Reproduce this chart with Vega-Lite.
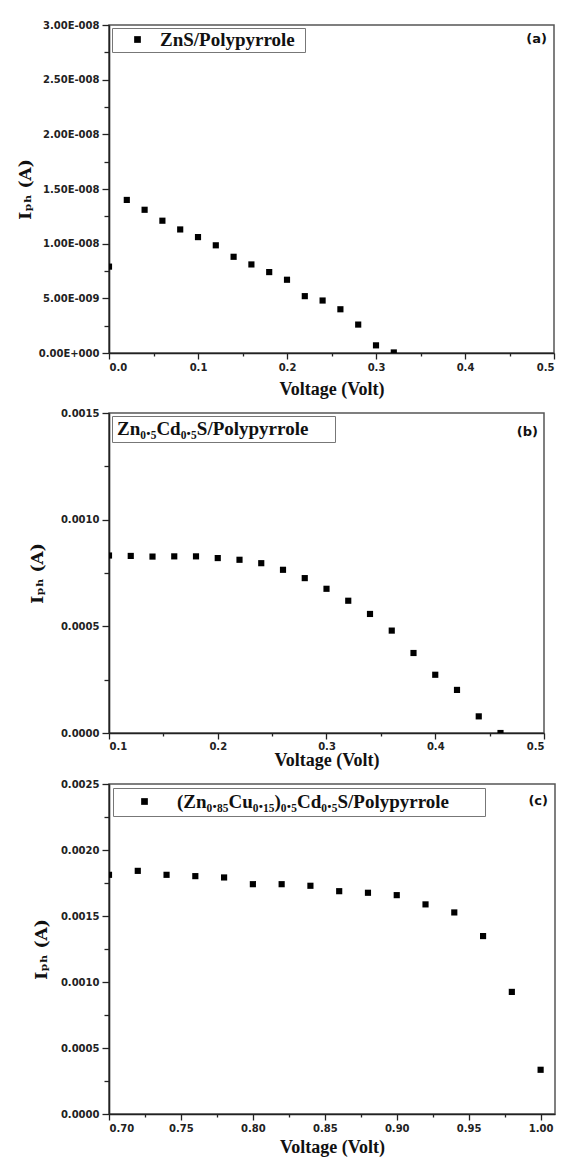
{
  "$schema": "https://vega.github.io/schema/vega-lite/v6.json",
  "padding": {"top": 19, "left": 15, "right": 4, "bottom": 0},
  "spacing": 8,
  "resolve": {"scale": {"shape": "independent"}, "legend": {"shape": "independent"}},
  "datasets": {
    "a": [
      {"V": 0.00, "I": 7.9e-9, "series": "ZnS/Polypyrrole"},
      {"V": 0.02, "I": 1.40e-8, "series": "ZnS/Polypyrrole"},
      {"V": 0.04, "I": 1.31e-8, "series": "ZnS/Polypyrrole"},
      {"V": 0.06, "I": 1.21e-8, "series": "ZnS/Polypyrrole"},
      {"V": 0.08, "I": 1.13e-8, "series": "ZnS/Polypyrrole"},
      {"V": 0.10, "I": 1.06e-8, "series": "ZnS/Polypyrrole"},
      {"V": 0.12, "I": 9.85e-9, "series": "ZnS/Polypyrrole"},
      {"V": 0.14, "I": 8.8e-9, "series": "ZnS/Polypyrrole"},
      {"V": 0.16, "I": 8.1e-9, "series": "ZnS/Polypyrrole"},
      {"V": 0.18, "I": 7.4e-9, "series": "ZnS/Polypyrrole"},
      {"V": 0.20, "I": 6.7e-9, "series": "ZnS/Polypyrrole"},
      {"V": 0.22, "I": 5.2e-9, "series": "ZnS/Polypyrrole"},
      {"V": 0.24, "I": 4.8e-9, "series": "ZnS/Polypyrrole"},
      {"V": 0.26, "I": 4.0e-9, "series": "ZnS/Polypyrrole"},
      {"V": 0.28, "I": 2.6e-9, "series": "ZnS/Polypyrrole"},
      {"V": 0.30, "I": 7e-10, "series": "ZnS/Polypyrrole"},
      {"V": 0.32, "I": 5e-11, "series": "ZnS/Polypyrrole"}
    ],
    "b": [
      {"V": 0.10, "I": 0.000832, "series": "Zn₀.₅Cd₀.₅S/Polypyrrole"},
      {"V": 0.12, "I": 0.000830, "series": "Zn₀.₅Cd₀.₅S/Polypyrrole"},
      {"V": 0.14, "I": 0.000827, "series": "Zn₀.₅Cd₀.₅S/Polypyrrole"},
      {"V": 0.16, "I": 0.000828, "series": "Zn₀.₅Cd₀.₅S/Polypyrrole"},
      {"V": 0.18, "I": 0.000828, "series": "Zn₀.₅Cd₀.₅S/Polypyrrole"},
      {"V": 0.20, "I": 0.000820, "series": "Zn₀.₅Cd₀.₅S/Polypyrrole"},
      {"V": 0.22, "I": 0.000812, "series": "Zn₀.₅Cd₀.₅S/Polypyrrole"},
      {"V": 0.24, "I": 0.000796, "series": "Zn₀.₅Cd₀.₅S/Polypyrrole"},
      {"V": 0.26, "I": 0.000765, "series": "Zn₀.₅Cd₀.₅S/Polypyrrole"},
      {"V": 0.28, "I": 0.000726, "series": "Zn₀.₅Cd₀.₅S/Polypyrrole"},
      {"V": 0.30, "I": 0.000676, "series": "Zn₀.₅Cd₀.₅S/Polypyrrole"},
      {"V": 0.32, "I": 0.000620, "series": "Zn₀.₅Cd₀.₅S/Polypyrrole"},
      {"V": 0.34, "I": 0.000558, "series": "Zn₀.₅Cd₀.₅S/Polypyrrole"},
      {"V": 0.36, "I": 0.000480, "series": "Zn₀.₅Cd₀.₅S/Polypyrrole"},
      {"V": 0.38, "I": 0.000375, "series": "Zn₀.₅Cd₀.₅S/Polypyrrole"},
      {"V": 0.40, "I": 0.000273, "series": "Zn₀.₅Cd₀.₅S/Polypyrrole"},
      {"V": 0.42, "I": 0.000202, "series": "Zn₀.₅Cd₀.₅S/Polypyrrole"},
      {"V": 0.44, "I": 0.000078, "series": "Zn₀.₅Cd₀.₅S/Polypyrrole"},
      {"V": 0.46, "I": 0.0, "series": "Zn₀.₅Cd₀.₅S/Polypyrrole"}
    ],
    "c": [
      {"V": 0.70, "I": 0.001812, "series": "(Zn₀.₈₅Cu₀.₁₅)₀.₅Cd₀.₅S/Polypyrrole"},
      {"V": 0.72, "I": 0.001842, "series": "(Zn₀.₈₅Cu₀.₁₅)₀.₅Cd₀.₅S/Polypyrrole"},
      {"V": 0.74, "I": 0.001812, "series": "(Zn₀.₈₅Cu₀.₁₅)₀.₅Cd₀.₅S/Polypyrrole"},
      {"V": 0.76, "I": 0.001802, "series": "(Zn₀.₈₅Cu₀.₁₅)₀.₅Cd₀.₅S/Polypyrrole"},
      {"V": 0.78, "I": 0.001792, "series": "(Zn₀.₈₅Cu₀.₁₅)₀.₅Cd₀.₅S/Polypyrrole"},
      {"V": 0.80, "I": 0.001741, "series": "(Zn₀.₈₅Cu₀.₁₅)₀.₅Cd₀.₅S/Polypyrrole"},
      {"V": 0.82, "I": 0.001741, "series": "(Zn₀.₈₅Cu₀.₁₅)₀.₅Cd₀.₅S/Polypyrrole"},
      {"V": 0.84, "I": 0.001729, "series": "(Zn₀.₈₅Cu₀.₁₅)₀.₅Cd₀.₅S/Polypyrrole"},
      {"V": 0.86, "I": 0.001688, "series": "(Zn₀.₈₅Cu₀.₁₅)₀.₅Cd₀.₅S/Polypyrrole"},
      {"V": 0.88, "I": 0.001676, "series": "(Zn₀.₈₅Cu₀.₁₅)₀.₅Cd₀.₅S/Polypyrrole"},
      {"V": 0.90, "I": 0.001658, "series": "(Zn₀.₈₅Cu₀.₁₅)₀.₅Cd₀.₅S/Polypyrrole"},
      {"V": 0.92, "I": 0.001588, "series": "(Zn₀.₈₅Cu₀.₁₅)₀.₅Cd₀.₅S/Polypyrrole"},
      {"V": 0.94, "I": 0.001527, "series": "(Zn₀.₈₅Cu₀.₁₅)₀.₅Cd₀.₅S/Polypyrrole"},
      {"V": 0.96, "I": 0.001348, "series": "(Zn₀.₈₅Cu₀.₁₅)₀.₅Cd₀.₅S/Polypyrrole"},
      {"V": 0.98, "I": 0.000925, "series": "(Zn₀.₈₅Cu₀.₁₅)₀.₅Cd₀.₅S/Polypyrrole"},
      {"V": 1.00, "I": 0.000335, "series": "(Zn₀.₈₅Cu₀.₁₅)₀.₅Cd₀.₅S/Polypyrrole"}
    ]
  },
  "config": {
    "view": {"stroke": "#555", "strokeWidth": 1.5},
    "axis": {
      "grid": false,
      "domainColor": "#222", "domainWidth": 1.6,
      "tickColor": "#222", "tickWidth": 1.3,
      "labelFont": "DejaVu Sans", "labelFontWeight": "bold", "labelFontSize": 10, "labelColor": "#222",
      "titleFont": "Liberation Serif", "titleFontWeight": "bold", "titleFontSize": 18, "titleColor": "#111"
    },
    "axisY": {"titleFont": "DejaVu Serif", "titleFontSize": 17},
    "legend": {
      "strokeColor": "#777", "fillColor": "white", "orient": "top-left",
      "labelFont": "Liberation Serif", "labelFontWeight": "bold", "labelColor": "#111", "labelLimit": 0,
      "symbolType": "square", "symbolFillColor": "black", "symbolStrokeWidth": 0,
      "titleOrient": "right", "titleFontSize": 1
    }
  },
  "vconcat": [
    {
      "width": 445, "height": 328,
      "layer": [
        {
          "data": {"name": "a"},
          "mark": {"type": "point", "shape": "square", "filled": true, "color": "black", "opacity": 1, "size": 38, "clip": true},
          "encoding": {
            "x": {"field": "V", "type": "quantitative", "scale": {"domain": [0, 0.5], "nice": false, "zero": false},
                  "axis": {"values": [0, 0.1, 0.2, 0.3, 0.4, 0.5], "format": ".1f", "title": "Voltage (Volt)", "tickSize": 6, "labelPadding": 3, "titlePadding": 8}},
            "y": {"field": "I", "type": "quantitative", "scale": {"domain": [0, 3e-8], "nice": false},
                  "axis": {"values": [0, 5e-9, 1e-8, 1.5e-8, 2e-8, 2.5e-8, 3e-8],
                           "labelExpr": "datum.value == 0 ? '0.00E+000' : (datum.value > 9.9e-9 ? format(datum.value * 1e8, '.2f') + 'E-008' : format(datum.value * 1e9, '.2f') + 'E-009')",
                           "title": "Iₚₕ (A)", "tickSize": 7, "labelPadding": 3, "titlePadding": 4}},
            "shape": {"field": "series", "type": "nominal", "scale": {"range": ["square"]},
                      "legend": {"title": " ", "offset": 3, "padding": 2, "symbolSize": 45, "symbolOffset": 14, "labelOffset": 13, "labelFontSize": 19, "titlePadding": 8}}
          }
        },
        {
          "data": {"values": [{"label": "(a)"}]},
          "mark": {"type": "text", "align": "right", "baseline": "top", "dx": -7, "dy": 8, "font": "DejaVu Sans", "fontWeight": "bold", "fontSize": 13, "color": "#111"},
          "encoding": {
            "text": {"field": "label"},
            "x": {"datum": 0.5, "type": "quantitative", "axis": {"orient": "bottom", "values": [0.05, 0.15, 0.25, 0.35, 0.45], "labels": false, "domain": false, "tickSize": 3, "title": null}},
            "y": {"datum": 3e-8, "type": "quantitative", "axis": {"orient": "left", "values": [2.5e-9, 7.5e-9, 1.25e-8, 1.75e-8, 2.25e-8, 2.75e-8], "labels": false, "domain": false, "tickSize": 5, "title": null}}
          }
        }
      ],
      "resolve": {"axis": {"x": "independent", "y": "independent"}}
    },
    {
      "width": 435, "height": 320,
      "layer": [
        {
          "data": {"name": "b"},
          "mark": {"type": "point", "shape": "square", "filled": true, "color": "black", "opacity": 1, "size": 38, "clip": true},
          "encoding": {
            "x": {"field": "V", "type": "quantitative", "scale": {"domain": [0.1, 0.5], "nice": false, "zero": false},
                  "axis": {"values": [0.1, 0.2, 0.3, 0.4, 0.5], "format": ".1f", "title": "Voltage (Volt)", "tickSize": 6, "labelPadding": 2, "titlePadding": 0}},
            "y": {"field": "I", "type": "quantitative", "scale": {"domain": [0, 0.0015], "nice": false},
                  "axis": {"values": [0, 0.0005, 0.001, 0.0015], "format": ".4f", "title": "Iₚₕ (A)", "tickSize": 7, "labelPadding": 3, "titlePadding": 14}},
            "shape": {"field": "series", "type": "nominal", "scale": {"range": ["square"]},
                      "legend": {"title": " ", "offset": 3, "padding": 3, "symbolSize": 1, "symbolOpacity": 0, "symbolOffset": 0, "labelOffset": -17, "labelFontSize": 19, "titlePadding": 24}}
          }
        },
        {
          "data": {"values": [{"label": "(b)"}]},
          "mark": {"type": "text", "align": "right", "baseline": "top", "dx": -6, "dy": 13, "font": "DejaVu Sans", "fontWeight": "bold", "fontSize": 13, "color": "#111"},
          "encoding": {
            "text": {"field": "label"},
            "x": {"datum": 0.5, "type": "quantitative", "axis": {"orient": "bottom", "values": [0.15, 0.25, 0.35, 0.45], "labels": false, "domain": false, "tickSize": 3, "title": null}},
            "y": {"datum": 0.0015, "type": "quantitative", "axis": {"orient": "left", "values": [0.00025, 0.00075, 0.00125], "labels": false, "domain": false, "tickSize": 5, "title": null}}
          }
        }
      ],
      "resolve": {"axis": {"x": "independent", "y": "independent"}}
    },
    {
      "width": 446, "height": 330,
      "layer": [
        {
          "data": {"name": "c"},
          "mark": {"type": "point", "shape": "square", "filled": true, "color": "black", "opacity": 1, "size": 38, "clip": true},
          "encoding": {
            "x": {"field": "V", "type": "quantitative", "scale": {"domain": [0.7, 1.01], "nice": false, "zero": false},
                  "axis": {"values": [0.7, 0.75, 0.8, 0.85, 0.9, 0.95, 1.0], "format": ".2f", "title": "Voltage (Volt)", "tickSize": 6, "labelPadding": 3, "titlePadding": 5}},
            "y": {"field": "I", "type": "quantitative", "scale": {"domain": [0, 0.0025], "nice": false},
                  "axis": {"values": [0, 0.0005, 0.001, 0.0015, 0.002, 0.0025], "format": ".4f", "title": "Iₚₕ (A)", "tickSize": 7, "labelPadding": 3, "titlePadding": 10}},
            "shape": {"field": "series", "type": "nominal", "scale": {"range": ["square"]},
                      "legend": {"title": " ", "offset": 4, "padding": 4, "symbolSize": 45, "symbolOffset": 18, "labelOffset": 23, "labelFontSize": 19, "titlePadding": 32}}
          }
        },
        {
          "data": {"values": [{"label": "(c)"}]},
          "mark": {"type": "text", "align": "right", "baseline": "top", "dx": -7, "dy": 11, "font": "DejaVu Sans", "fontWeight": "bold", "fontSize": 13, "color": "#111"},
          "encoding": {
            "text": {"field": "label"},
            "x": {"datum": 1.01, "type": "quantitative", "axis": {"orient": "bottom", "values": [0.725, 0.775, 0.825, 0.875, 0.925, 0.975], "labels": false, "domain": false, "tickSize": 3, "title": null}},
            "y": {"datum": 0.0025, "type": "quantitative", "axis": {"orient": "left", "values": [0.00025, 0.00075, 0.00125, 0.00175, 0.00225], "labels": false, "domain": false, "tickSize": 5, "title": null}}
          }
        }
      ],
      "resolve": {"axis": {"x": "independent", "y": "independent"}}
    }
  ]
}
